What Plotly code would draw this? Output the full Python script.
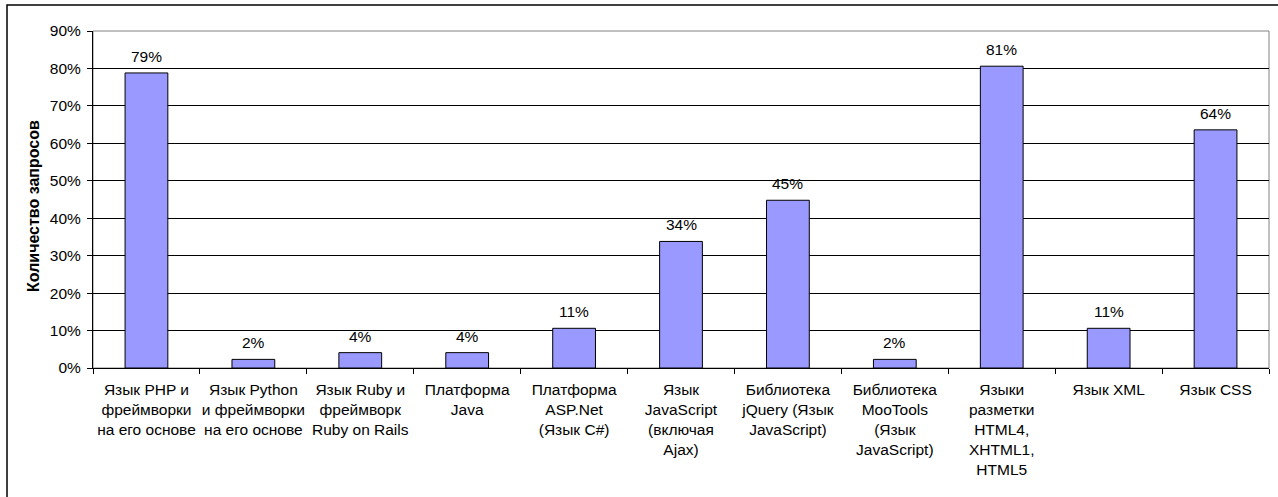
import plotly.graph_objects as go

categories = [
    "Язык PHP и<br>фреймворки<br>на его основе",
    "Язык Python<br>и фреймворки<br>на его основе",
    "Язык Ruby и<br>фреймворк<br>Ruby on Rails",
    "Платформа<br>Java",
    "Платформа<br>ASP.Net<br>(Язык C#)",
    "Язык<br>JavaScript<br>(включая<br>Ajax)",
    "Библиотека<br>jQuery (Язык<br>JavaScript)",
    "Библиотека<br>MooTools<br>(Язык<br>JavaScript)",
    "Языки<br>разметки<br>HTML4,<br>XHTML1,<br>HTML5",
    "Язык XML",
    "Язык CSS",
]
values = [0.788, 0.023, 0.041, 0.041, 0.106, 0.338, 0.448, 0.023, 0.806, 0.106, 0.636]
labels = ["79%", "2%", "4%", "4%", "11%", "34%", "45%", "2%", "81%", "11%", "64%"]
y_ticks = [0, 0.1, 0.2, 0.3, 0.4, 0.5, 0.6, 0.7, 0.8, 0.9]
y_title = "Количество запросов"

W, H = 1278, 497
ML, MT, MR, MB = 93, 31, 9, 129
FONT = "Liberation Sans, Arial, sans-serif"
FS = 15.5

fig = go.Figure()
fig.add_trace(go.Bar(
    x=categories, y=values,
    marker=dict(color="#9999FF", line=dict(color="#000000", width=1)),
    width=0.4, hoverinfo="skip",
))

for c, v, t in zip(categories, values, labels):
    fig.add_annotation(x=c, y=v, text=t, showarrow=False,
                       yanchor="bottom", yshift=6,
                       font=dict(family=FONT, size=FS, color="#000"))

pw = W - ML - MR
ph = H - MT - MB
# y-axis title
fig.add_annotation(xref="paper", yref="paper", x=(33 - ML) / pw, y=1 - (206 - MT) / ph,
                   text=f"<b>{y_title}</b>", textangle=-90, showarrow=False,
                   xanchor="center", yanchor="middle",
                   font=dict(family=FONT, size=16, color="#000"))

# plot area border (gray)
fig.add_shape(type="rect", xref="x domain", yref="y domain", x0=0, x1=1, y0=0, y1=1,
              line=dict(color="#808080", width=1), layer="below")
# outer chart border
fig.add_shape(type="rect", xref="paper", yref="paper",
              x0=(7 - ML) / pw, x1=(W + 20 - ML) / pw,
              y0=-(H + 20 - MT - ph) / ph, y1=1 + (MT - 5) / ph,
              line=dict(color="#000", width=1.5), layer="below")

fig.update_layout(
    width=W, height=H,
    margin=dict(l=ML, r=MR, t=MT, b=MB),
    paper_bgcolor="white", plot_bgcolor="white",
    showlegend=False, bargap=0.6,
    font=dict(family=FONT, size=FS, color="#000"),
    xaxis=dict(type="category", tickson="boundaries", ticks="outside", ticklen=5,
               tickcolor="#000", showline=True, linecolor="#000", linewidth=1,
               showgrid=False, tickangle=0, tickfont=dict(size=FS),
               ticklabelstandoff=7),
    yaxis=dict(range=[0, 0.9], tickvals=y_ticks, tickformat=".0%", ticks="outside",
               ticklen=5, tickcolor="#000", showline=True, linecolor="#000", linewidth=1,
               showgrid=True, gridcolor="#000", gridwidth=1, zeroline=False,
               tickfont=dict(size=FS), ticklabelstandoff=3),
)

fig.write_html("out.html", config={"displayModeBar": False},
               post_script="document.body.style.margin='0';document.body.style.overflow='hidden';")
